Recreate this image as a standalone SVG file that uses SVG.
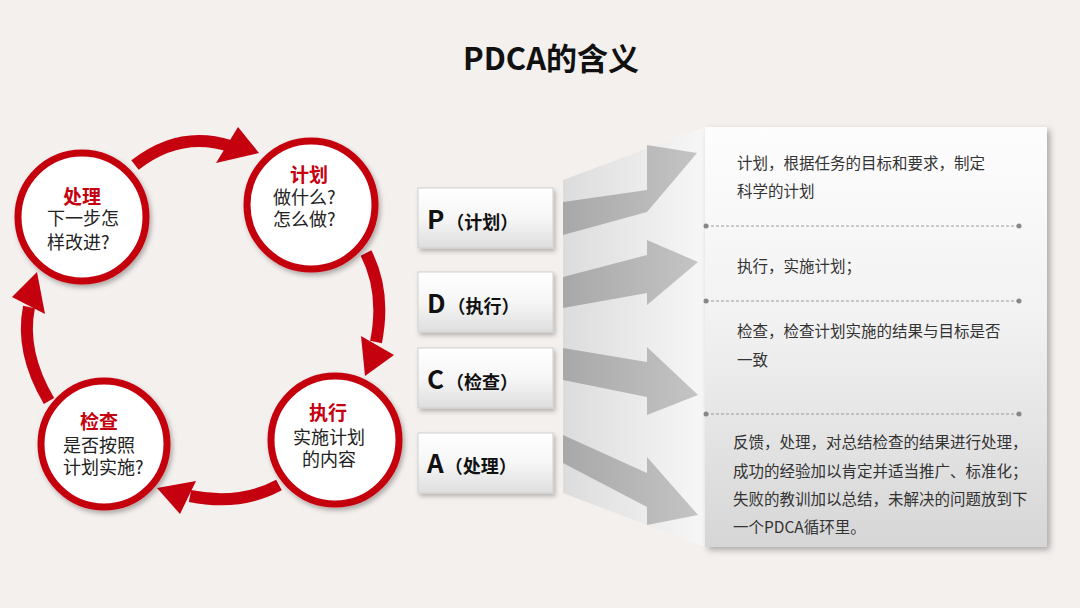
<svg xmlns="http://www.w3.org/2000/svg" width="1080" height="608" viewBox="0 0 1080 608">
<defs>
<style>
.cjk{font-family:"Noto Sans CJK SC","Noto Sans",sans-serif;}
.ring{fill:#fff;stroke:#c5000f;stroke-width:7;filter:url(#sh);}
.ct{font-size:19px;font-weight:bold;fill:#c5000f;text-anchor:middle;}
.cb{font-size:18px;fill:#222;}
.rarc{fill:none;stroke:#c5000f;stroke-width:12;}
.rhead{fill:#c5000f;}
.box{fill:url(#boxg);stroke:#d0d0d0;stroke-width:1;filter:url(#sh2);}
.bl{font-size:26px;font-weight:bold;fill:#111;}
.bs{font-size:18px;font-weight:bold;fill:#111;}
.garr{fill:url(#garrg);}
.pt{font-size:15.5px;fill:#333;}
.dash{stroke:#9a9a9a;stroke-width:1;stroke-dasharray:3 2;}
.dot{fill:#888;}
</style>
<filter id="sh" x="-20%" y="-20%" width="150%" height="150%">
<feDropShadow dx="2" dy="3" stdDeviation="2.5" flood-color="#000" flood-opacity="0.3"/>
</filter>
<filter id="sh2" x="-10%" y="-10%" width="130%" height="140%">
<feDropShadow dx="2" dy="3" stdDeviation="2" flood-color="#000" flood-opacity="0.25"/>
</filter>
<filter id="sh3" x="-10%" y="-10%" width="130%" height="130%">
<feDropShadow dx="3" dy="3" stdDeviation="3" flood-color="#000" flood-opacity="0.3"/>
</filter>
<linearGradient id="boxg" x1="0" y1="0" x2="0" y2="1">
<stop offset="0" stop-color="#ffffff"/>
<stop offset="0.5" stop-color="#f6f6f6"/>
<stop offset="1" stop-color="#dedede"/>
</linearGradient>
<linearGradient id="panelg" x1="0" y1="0" x2="0" y2="1">
<stop offset="0" stop-color="#fdfdfd"/>
<stop offset="0.45" stop-color="#f2f2f2"/>
<stop offset="1" stop-color="#d6d6d6"/>
</linearGradient>
<linearGradient id="backg" x1="0" y1="0" x2="1" y2="0">
<stop offset="0" stop-color="#dcdcdc"/>
<stop offset="1" stop-color="#f7f7f7"/>
</linearGradient>
<linearGradient id="garrg" x1="0" y1="0" x2="1" y2="0">
<stop offset="0" stop-color="#a8a8a8"/>
<stop offset="1" stop-color="#c4c4c4"/>
</linearGradient>
</defs>

<rect width="1080" height="608" fill="#f4f0ee"/>

<text class="cjk" x="551" y="70" font-size="31" font-weight="bold" fill="#111" text-anchor="middle">PDCA的含义</text>

<g id="connectors">
<path class="rarc" d="M135,165 Q180,130 230,146"/>
<polygon class="rhead" points="238,127 259,153 216,163"/>
<path class="rarc" d="M366,253 Q386,292 376,342"/>
<polygon class="rhead" points="361,336 394,355 365,376"/>
<path class="rarc" d="M279,485 Q240,506 190,496"/>
<polygon class="rhead" points="196,481 180,514 157,488"/>
<path class="rarc" d="M49,401 Q20,352 29,307"/>
<polygon class="rhead" points="12,297 45,314 37,272"/>
</g>

<g id="node-handle">
<circle class="ring" cx="82" cy="217" r="64"/>
<text class="cjk ct" x="82" y="204">处理</text>
<text class="cjk cb" x="47" y="225">下一步怎</text>
<text class="cjk cb" x="47" y="249">样改进?</text>
</g>
<g id="node-plan">
<circle class="ring" cx="311" cy="205" r="64"/>
<text class="cjk ct" x="309" y="182">计划</text>
<text class="cjk cb" x="273" y="204">做什么?</text>
<text class="cjk cb" x="273" y="226">怎么做?</text>
</g>
<g id="node-do">
<circle class="ring" cx="335" cy="440" r="64"/>
<text class="cjk ct" x="328" y="420">执行</text>
<text class="cjk cb" x="293" y="444">实施计划</text>
<text class="cjk cb" x="302" y="466">的内容</text>
</g>
<g id="node-check">
<circle class="ring" cx="104" cy="444" r="63"/>
<text class="cjk ct" x="99" y="429">检查</text>
<text class="cjk cb" x="63" y="452">是否按照</text>
<text class="cjk cb" x="63" y="474">计划实施?</text>
</g>

<g id="backdrop">
<polygon points="563,180 705,127 705,547 647,525 563,493" fill="url(#backg)"/>
</g>

<g id="node-panel">
<rect x="705" y="127" width="342" height="420" fill="url(#panelg)" filter="url(#sh3)"/>
<line class="dash" x1="706" y1="226" x2="1019" y2="226"/>
<circle class="dot" cx="706" cy="226" r="2.5"/><circle class="dot" cx="1019" cy="226" r="2.5"/>
<line class="dash" x1="706" y1="301" x2="1019" y2="301"/>
<circle class="dot" cx="706" cy="301" r="2.5"/><circle class="dot" cx="1019" cy="301" r="2.5"/>
<line class="dash" x1="706" y1="414" x2="1019" y2="414"/>
<circle class="dot" cx="706" cy="414" r="2.5"/><circle class="dot" cx="1019" cy="414" r="2.5"/>
<text class="cjk pt" x="737" y="169">计划，根据任务的目标和要求，制定</text>
<text class="cjk pt" x="737" y="197">科学的计划</text>
<text class="cjk pt" x="737" y="272">执行，实施计划；</text>
<text class="cjk pt" x="737" y="337">检查，检查计划实施的结果与目标是否</text>
<text class="cjk pt" x="737" y="366">一致</text>
<text class="cjk pt" x="733" y="448">反馈，处理，对总结检查的结果进行处理，</text>
<text class="cjk pt" x="733" y="477">成功的经验加以肯定并适当推广、标准化；</text>
<text class="cjk pt" x="733" y="505">失败的教训加以总结，未解决的问题放到下</text>
<text class="cjk pt" x="733" y="533">一个PDCA循环里。</text>
</g>

<g id="gray-arrows">
<polygon class="garr" points="563,202 647,190 647,145 697,153 647,212 563,235"/>
<polygon class="garr" points="563,277 647,255 647,240 698,262 647,305 647,293 563,308"/>
<polygon class="garr" points="563,348 647,362 647,347 698,395 647,415 647,397 563,380"/>
<polygon class="garr" points="563,435 647,473 647,457 698,515 647,525 647,507 563,463"/>
</g>

<g id="node-P">
<rect class="box" x="418" y="188" width="135" height="60"/>
<text class="cjk" x="427" y="229"><tspan class="bl">P</tspan><tspan class="bs" dx="2">（计划）</tspan></text>
</g>
<g id="node-D">
<rect class="box" x="418" y="272" width="135" height="60"/>
<text class="cjk" x="427" y="313"><tspan class="bl">D</tspan><tspan class="bs" dx="2">（执行）</tspan></text>
</g>
<g id="node-C">
<rect class="box" x="418" y="348" width="135" height="60"/>
<text class="cjk" x="427" y="389"><tspan class="bl">C</tspan><tspan class="bs" dx="2">（检查）</tspan></text>
</g>
<g id="node-A">
<rect class="box" x="418" y="433" width="135" height="60"/>
<text class="cjk" x="427" y="473"><tspan class="bl">A</tspan><tspan class="bs" dx="1">（处理）</tspan></text>
</g>
</svg>
